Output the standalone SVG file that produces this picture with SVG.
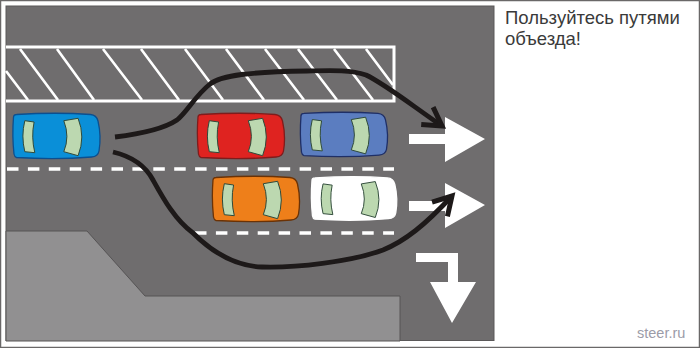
<svg xmlns="http://www.w3.org/2000/svg" width="700" height="348" viewBox="0 0 700 348">
  <style>
    .frame { fill: #ffffff; stroke: #6a6868; stroke-width: 1.5; }
    .road { fill: #6f6d6e; stroke: #5a5859; stroke-width: 1; }
    .kerb { fill: #919091; stroke: #565455; stroke-width: 1; }
    .paint { fill: none; stroke: #ffffff; stroke-width: 3; }
    .hatch { fill: none; stroke: #ffffff; stroke-width: 2.6; }
    .dash { fill: none; stroke: #ffffff; stroke-width: 3.4; stroke-dasharray: 11.5 9.4; }
    .sign { fill: #ffffff; }
    .route { fill: none; stroke: #1d1919; stroke-width: 4.8; stroke-linecap: butt; }
    .glass { fill: #bcd8b0; stroke: #2f4a3a; stroke-width: 1; }
    .note { font-family: "Liberation Sans", Arial, sans-serif; font-size: 18.500px; fill: #3a3a3a; }
    .mark { font-family: "Liberation Sans", Arial, sans-serif; font-size: 14.500px; fill: #9c9ca8; }
  </style>
  <defs>
    <!-- Top view of a car, nose to the right; fill and outline come from the use element -->
    <g id="car">
      <path d="M1,4 Q1,1.500 4,1.500 Q44,-1 78,1.500 Q84,2 85.500,8 Q89,23 86.500,38 Q85.500,43.500 79,44 Q44,47 4,44.500 Q2,44 1.500,41 Q-0.500,23 1,4 Z" stroke-width="1.300"/>
      <path class="glass" d="M12.300,7.700 L21.600,9 Q18.500,24 22.300,39.700 L12.300,38.700 Q8.500,23 12.300,7.700 Z"/>
      <path class="glass" d="M51.300,7.700 L65.600,5.300 Q73,24 65.600,42.700 L51.300,38.700 Q57.500,23.700 51.300,7.700 Z"/>
    </g>
    <marker id="open-head" markerUnits="userSpaceOnUse" markerWidth="30" markerHeight="30" refX="24" refY="15" orient="auto" overflow="visible">
      <path d="M6,4.500 L24,15 L6,25.500" fill="none" stroke="#1d1919" stroke-width="5"/>
    </marker>
  </defs>

  <rect class="frame" x="0.500" y="0.500" width="699" height="347"/>

  <g id="road">
    <rect class="road" x="6" y="6" width="488" height="334.500"/>
  </g>

  <g id="kerb">
    <path class="kerb" d="M6,231 L87,231 L145,296 L400,296 L400,341 L6,341 Z"/>
  </g>

  <g id="markings">
    <path class="paint" d="M6,47 L394,47 L394,101 L6,101"/>
    <path class="hatch" d="M6,71 L28,100 M20,49 L58,100 M57,49 L94,100 M103,49 L142,100 M141,49 L179,100 M185,49 L223,100 M226,49 L264,100 M265,49 L304,100 M298,49 L337,100 M334,49 L373,100 M366,49 L393,85"/>
    <path class="dash" d="M7,169 L394,169"/>
    <path class="dash" d="M195,233 L394,233"/>
  </g>

  <g id="car-blue"><use href="#car" transform="translate(12.500,113)" fill="#0a8fd8" stroke="#0c4f8f"/></g>
  <g id="car-red"><use href="#car" transform="translate(197,113)" fill="#df2320" stroke="#7f1c1c"/></g>
  <g id="car-slate"><use href="#car" transform="translate(300,112) scale(1,0.98)" fill="#5b7dc0" stroke="#1f2f66"/></g>
  <g id="car-orange"><use href="#car" transform="translate(212,176)" fill="#ee7f1a" stroke="#6b3205"/></g>
  <g id="car-white"><use href="#car" transform="translate(311,176.500) scale(0.98,0.96)" fill="#ffffff" stroke="#ffffff"/></g>

  <g id="sign-ahead-upper">
    <path class="sign" d="M409,134 L445,134 L445,117 L485,139 L445,162 L445,144 L409,144 Z"/>
  </g>
  <g id="sign-ahead-lower">
    <path class="sign" d="M409,201 L445,201 L445,183 L485,205 L445,228 L445,211 L409,211 Z"/>
  </g>
  <g id="sign-turn">
    <path class="sign" d="M416,253 L458,253 L458,282 L476,282 L452,323 L430,282 L448,282 L448,262 L416,262 Z"/>
  </g>

  <g id="connectors">
    <path class="route" marker-end="url(#open-head)" d="M115,137 C140,134 165,128 177,120 C187,112 195,96 210,84 C222,75 250,72 307,71 C330,70.500 350,69.500 366,75 C385,84 410,104 442,126"/>
    <path class="route" marker-end="url(#open-head)" d="M113,152 C130,156 145,165 153,180 C163,198 175,220 193,233 C212,252 235,266 262,267 C295,268 350,262 383,250 C405,241 425,225 452,196"/>
  </g>

  <g id="labels">
    <text class="note" x="505" y="24">Пользуйтесь путями</text>
    <text class="note" x="505" y="45">объезда!</text>
    <text class="mark" x="637" y="338">steer.ru</text>
  </g>
</svg>
